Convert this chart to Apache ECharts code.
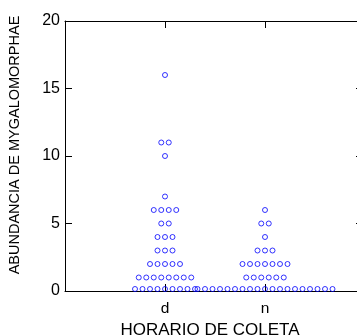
<!DOCTYPE html>
<html>
<head>
<meta charset="utf-8">
<script src="https://cdn.jsdelivr.net/npm/echarts@6/dist/echarts.min.js"></script>
<style>
  html, body { margin: 0; padding: 0; background: #fff; }
  #chart { width: 357px; height: 336px; }
</style>
</head>
<body>
<div id="chart"></div>
<script>
// categorias do eixo x
const grupos = ['d', 'n']

// abundancia por amostra
const valoresD = [
  0, 0, 0, 0, 0, 0, 0, 0, 0,
  1, 1, 1, 1, 1, 1, 1, 1,
  2, 2, 2, 2, 2,
  3, 3, 3,
  4, 4, 4,
  5, 5,
  6, 6, 6, 6,
  7, 10, 11, 11, 16
]
const valoresN = [
  0, 0, 0, 0, 0, 0, 0, 0, 0, 0, 0, 0, 0, 0, 0, 0, 0, 0, 0,
  1, 1, 1, 1, 1, 1,
  2, 2, 2, 2, 2, 2, 2,
  3, 3, 3,
  4,
  5, 5,
  6
]

// marcas do eixo y
const ticksY = [0, 5, 10, 15, 20]

const corPonto = '#0000ff'
const corEixo = '#000'
const fonte = '"Liberation Sans", Arial, sans-serif'
const passo = 0.075 // espacamento horizontal entre pontos empilhados

// empilha valores iguais lado a lado em torno do centro do grupo
function empilhar(valores, centro) {
  const contagem = {}
  valores.forEach(v => { contagem[v] = (contagem[v] || 0) + 1 })
  const pontos = []
  Object.keys(contagem).forEach(k => {
    const v = Number(k)
    const n = contagem[k]
    for (let j = 0; j < n; j++) {
      const item = { value: [centro + (j - (n - 1) / 2) * passo, v] }
      if (v === 0) item.symbolOffset = [0, -2]
      pontos.push(item)
    }
  })
  return pontos
}

const rotuloX = v => {
  const i = Math.round(v) - 1
  return Math.abs(v - Math.round(v)) < 1e-6 && grupos[i] ? grupos[i] : ''
}

const eixoLinha = { show: true, onZero: false, lineStyle: { color: corEixo, width: 1 } }
const tick = { show: true, inside: true, length: 7, lineStyle: { color: corEixo } }

const chart = echarts.init(document.getElementById('chart'))

chart.setOption({
  animation: false,
  grid: { left: 65, top: 21, width: 298, height: 270, outerBoundsMode: 'none', containLabel: false },
  xAxis: [
    {
      type: 'value',
      position: 'bottom',
      min: 0,
      max: 2.98,
      interval: 1,
      splitLine: { show: false },
      axisLine: eixoLinha,
      axisTick: tick,
      axisLabel: {
        formatter: rotuloX,
        margin: 10,
        color: '#000',
        fontSize: 15.5,
        fontFamily: fonte,
        showMinLabel: false,
        showMaxLabel: false
      },
      name: 'HORARIO DE COLETA',
      nameLocation: 'middle',
      nameGap: 23,
      nameTextStyle: { color: '#000', fontSize: 17, fontFamily: fonte, padding: [0, 8, 0, 0] }
    },
    {
      type: 'value',
      position: 'top',
      min: 0,
      max: 2.98,
      interval: 1,
      splitLine: { show: false },
      axisLine: eixoLinha,
      axisTick: tick,
      axisLabel: { show: false }
    }
  ],
  yAxis: [
    {
      type: 'value',
      position: 'left',
      min: ticksY[0],
      max: ticksY[ticksY.length - 1],
      interval: ticksY[1] - ticksY[0],
      splitLine: { show: false },
      axisLine: eixoLinha,
      axisTick: tick,
      axisLabel: { margin: 5, color: '#000', fontSize: 16, fontFamily: fonte },
      name: 'ABUNDANCIA DE MYGALOMORPHAE',
      nameLocation: 'middle',
      nameGap: 43,
      nameTextStyle: { color: '#000', fontSize: 14.5, fontFamily: fonte, padding: [0, 0, 0, 22] }
    },
    {
      type: 'value',
      position: 'right',
      min: ticksY[0],
      max: ticksY[ticksY.length - 1],
      interval: ticksY[1] - ticksY[0],
      splitLine: { show: false },
      axisLine: eixoLinha,
      axisTick: tick,
      axisLabel: { show: false }
    }
  ],
  series: grupos.map((g, i) => ({
    name: g,
    type: 'scatter',
    xAxisIndex: 0,
    yAxisIndex: 0,
    symbol: 'circle',
    symbolSize: 5,
    clip: false,
    itemStyle: { color: 'rgba(0,0,0,0)', borderColor: corPonto, borderWidth: 1 },
    data: empilhar(i === 0 ? valoresD : valoresN, i + 1)
  }))
})
</script>
</body>
</html>
